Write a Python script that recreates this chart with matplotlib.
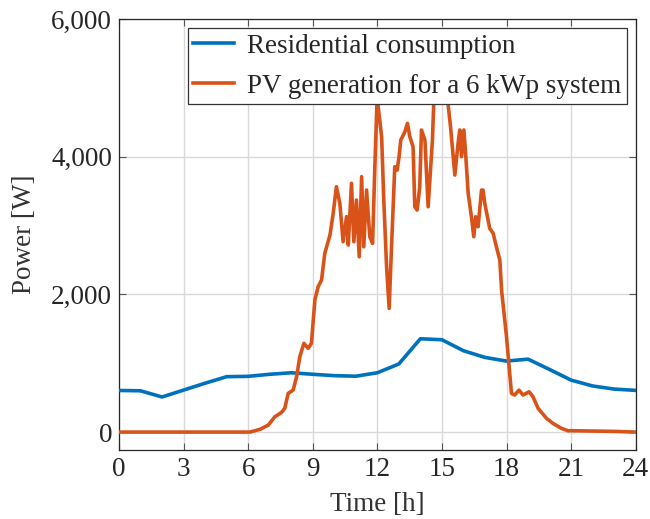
"""
Residential consumption vs. PV generation over one day.
"""

import matplotlib
matplotlib.use('Agg')
import matplotlib.pyplot as plt
from matplotlib.ticker import FuncFormatter

BLUE   = '#0072BD'
ORANGE = '#D95319'

# ── Data ──────────────────────────────────────────────────────────────────────

load_hours = [0, 1, 2, 3, 4, 5, 6, 7, 8, 9, 10, 11, 12,
              13, 14, 15, 16, 17, 18, 19, 20, 21, 22, 23, 24]
load_watts = [605, 600, 510, 610, 710, 805, 810, 840, 862, 840, 820, 812, 862,
              990, 1356, 1342, 1182, 1085, 1032, 1060, 910, 755, 670, 625, 606]

pv_hours = [0, 6.08, 6.55, 6.93, 7.24, 7.55, 7.7, 7.86, 8.09, 8.25, 8.4, 8.59,
            8.79, 8.94, 9.1, 9.25, 9.41, 9.56, 9.8, 9.95, 10.1, 10.26, 10.41,
            10.57, 10.65, 10.8, 10.91, 11.03, 11.16, 11.27, 11.37, 11.5, 11.65,
            11.78, 11.88, 12.0, 12.04, 12.2, 12.3, 12.43, 12.55, 12.66, 12.81,
            12.92, 13.01, 13.09, 13.28, 13.4, 13.51, 13.66, 13.74, 13.85, 13.97,
            14.05, 14.21, 14.36, 14.47, 14.56, 14.62, 14.75, 14.95, 15.15, 15.29,
            15.4, 15.6, 15.75, 15.83, 15.91, 16.02, 16.11, 16.22, 16.37, 16.48,
            16.57, 16.68, 16.84, 16.91, 16.99, 17.22, 17.38, 17.53, 17.69, 17.77,
            18.0, 18.23, 18.38, 18.58, 18.77, 19.05, 19.23, 19.47, 19.86, 20.16,
            20.55, 20.86, 21, 22, 23, 24]
pv_watts = [0, 0, 40, 100, 222, 286, 344, 562, 610, 804, 1095, 1290,
            1216, 1290, 1920, 2112, 2210, 2597, 2863, 3178, 3566, 3324, 2766,
            3130, 2718, 3615, 2766, 3372, 2548, 3711, 2693, 3517, 2839,
            2742, 3808, 4950, 4728, 4292, 3372, 2403, 1798, 2693, 3856,
            3808, 4002, 4244, 4365, 4486, 4292, 4147, 3275, 3227, 3566,
            4390, 4244, 3275, 3808, 4244, 4780, 5400, 5600, 5300, 4753,
            4438, 3735, 4196, 4390, 4002, 4390, 4002, 3469, 3130, 2839,
            3130, 2984, 3517, 3517, 3324, 2960, 2888, 2693, 2500, 2064,
            1385, 562, 538, 610, 538, 586, 513, 344, 199, 126,
            54, 19, 20, 15, 10, 0]

X_TICKS = [0, 3, 6, 9, 12, 15, 18, 21, 24]
Y_TICKS = [0, 2000, 4000, 6000]


def main():
    plt.rcParams['font.family'] = ['Liberation Serif', 'DejaVu Serif']
    plt.rcParams['font.size'] = 19.5

    fig = plt.figure(figsize=(6.5, 5.19), dpi=100)
    ax = fig.add_axes([0.183, 0.133, 0.795, 0.830])

    ax.plot(load_hours, load_watts, color=BLUE, linewidth=2.6,
            label='Residential consumption', zorder=3)
    ax.plot(pv_hours, pv_watts, color=ORANGE, linewidth=2.6,
            label='PV generation for a 6 kWp system', zorder=3)

    ax.set_xlim(0, 24)
    ax.set_ylim(-260, 6000)
    ax.set_xticks(X_TICKS)
    ax.set_yticks(Y_TICKS)
    ax.yaxis.set_major_formatter(FuncFormatter(lambda v, _: f'{v:,.0f}'))

    ax.grid(True, color='#d9d9d9', linewidth=1.0, zorder=0)
    ax.set_axisbelow(True)
    ax.tick_params(direction='in', length=5, width=0.8, color='#555555',
                   top=True, right=True, labelcolor='#262626', pad=5)
    for s in ax.spines.values():
        s.set_color('#262626')
        s.set_linewidth(0.9)

    ax.set_xlabel('Time [h]', color='#333333', labelpad=7.5)
    ax.set_ylabel('Power [W]', color='#333333', labelpad=10)

    leg = ax.legend(loc='upper right', bbox_to_anchor=(0.983, 0.979),
                    borderaxespad=0, fancybox=False, framealpha=1,
                    edgecolor='#333333', handlelength=1.5,
                    handletextpad=0.5, borderpad=0.2, labelspacing=0.55)
    leg.get_frame().set_linewidth(0.9)
    leg.set_zorder(5)
    for t in leg.get_texts():
        t.set_color('#262626')

    fig.savefig('out.png', dpi=100)
    plt.close(fig)


if __name__ == '__main__':
    main()
